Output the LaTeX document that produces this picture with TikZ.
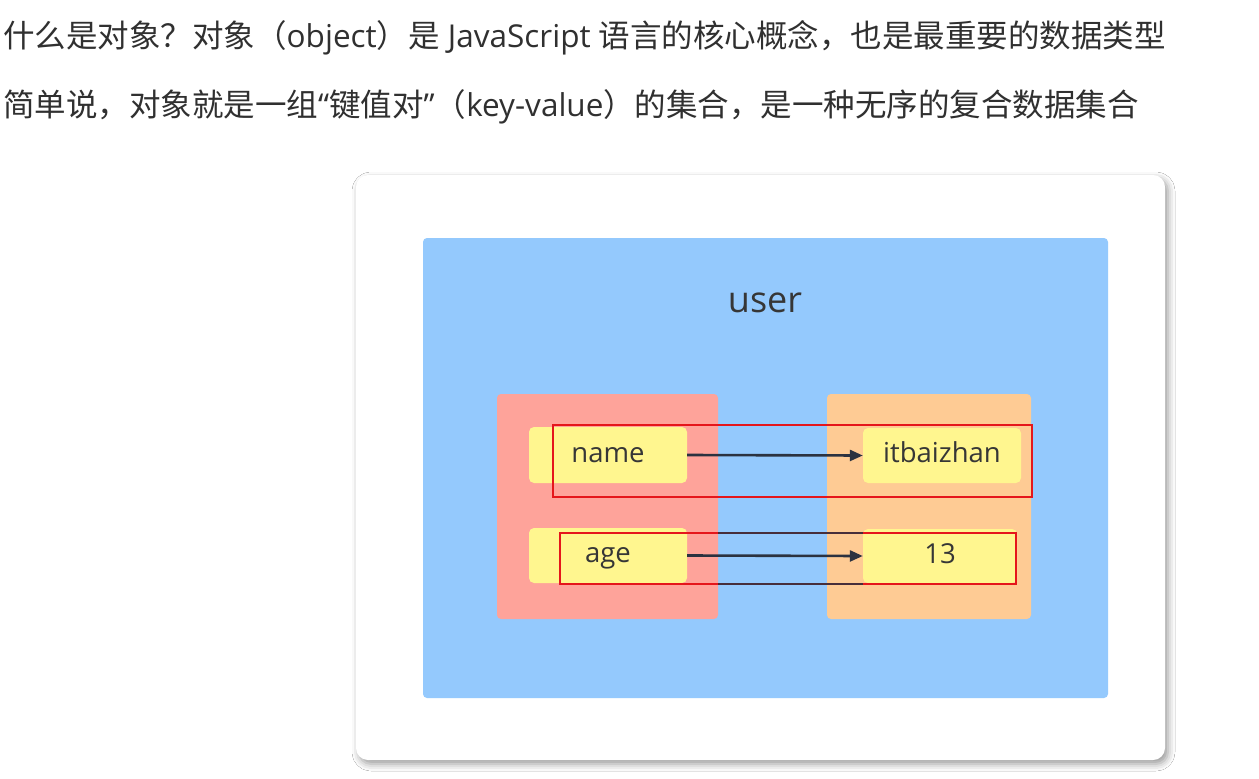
\documentclass[tikz,border=0pt]{standalone}
\usepackage{fontspec}
\setmainfont{Open Sans}
\newfontfamily\cjk{Noto Sans CJK SC}
\usetikzlibrary{shadows.blur,arrows.meta}
\definecolor{txt}{HTML}{303030}
\definecolor{bluebg}{HTML}{94C9FD}
\definecolor{keybg}{HTML}{FEA39A}
\definecolor{valbg}{HTML}{FECB94}
\definecolor{yel}{HTML}{FFF68F}
\definecolor{hl}{HTML}{E5161B}
\definecolor{arr}{HTML}{2B3240}
\definecolor{lbl}{HTML}{363636}
\begin{document}
\begin{tikzpicture}[x=1pt,y=-1pt,
  line/.style={anchor=west, inner sep=0pt, text=txt, font=\fontsize{31.5}{36}\selectfont},
  panel/.style={draw=none, inner sep=0pt, rounded corners=4pt},
  cell/.style={panel, fill=yel, rounded corners=5pt, text=lbl, text height=20pt, text depth=5.5pt,
    font=\fontsize{27.5}{32}\selectfont},
  hlbox/.style={draw=hl, line width=1.6pt},
  link/.style={draw=arr, line width=2.6pt, -{Triangle[length=13pt,width=11pt]}},
  gapline/.style={draw=arr!85!hl, line width=1.8pt}]
\useasboundingbox[fill=white] (0,0) rectangle (1259,779);

% heading text
\node[line] (l1) at (3,38) {{\cjk 什么是对象？对象（}object{\cjk ）是} JavaScript {\cjk 语言的核心概念，也是最重要的数据类型}};
\node[line] (l2) at (3,107) {{\cjk 简单说，对象就是一组}“{\cjk 键值对}”{\cjk （}key-value{\cjk ）的集合，是一种无序的复合数据集合}};

% card
\node[panel, fill=white, rounded corners=12pt, minimum width=809pt, minimum height=585pt,
  blur shadow={shadow xshift=3pt, shadow yshift=-4pt, shadow blur radius=7pt, shadow opacity=40}]
  (card) at (760.5,467.5) {};

% object area
\node[panel, fill=bluebg, minimum width=685pt, minimum height=460pt] (user) at (765.5,468) {};
\node[text=lbl, font=\fontsize{36}{40}\selectfont, inner sep=0pt] (title) at (765,303) {user};

% key / value columns
\node[panel, fill=keybg, minimum width=221pt, minimum height=225pt] (keys) at (607.5,506.5) {};
\node[panel, fill=valbg, minimum width=204pt, minimum height=225pt] (vals) at (929,506.5) {};

% cells
\node[cell, minimum width=158pt, minimum height=56pt] (name) at (608,455) {name};
\node[cell, minimum width=158pt, minimum height=55pt] (age) at (608,555.5) {age};
\node[cell, minimum width=158pt, minimum height=55pt] (itb) at (942,455.5) {itbaizhan};
\node[cell, minimum width=154pt, minimum height=54pt] (v13) at (940,556) {13};

% arrows
\draw[link] (name.east) -- (itb.west);
\draw[link] (age.east) -- (v13.west);

% highlight rectangles
\coordinate (h1a) at (553,425);
\coordinate (h1b) at (1032,497);
\coordinate (h2a) at (560,533);
\coordinate (h2b) at (1016,584);
\draw[hlbox] (h1a) rectangle (h1b);
\draw[hlbox] (h2a) rectangle (h2b);
\draw[gapline] (keys.east |- h2a) -- (v13.west |- h2a);
\draw[gapline] (keys.east |- h2b) -- (v13.west |- h2b);
\end{tikzpicture}
\end{document}
